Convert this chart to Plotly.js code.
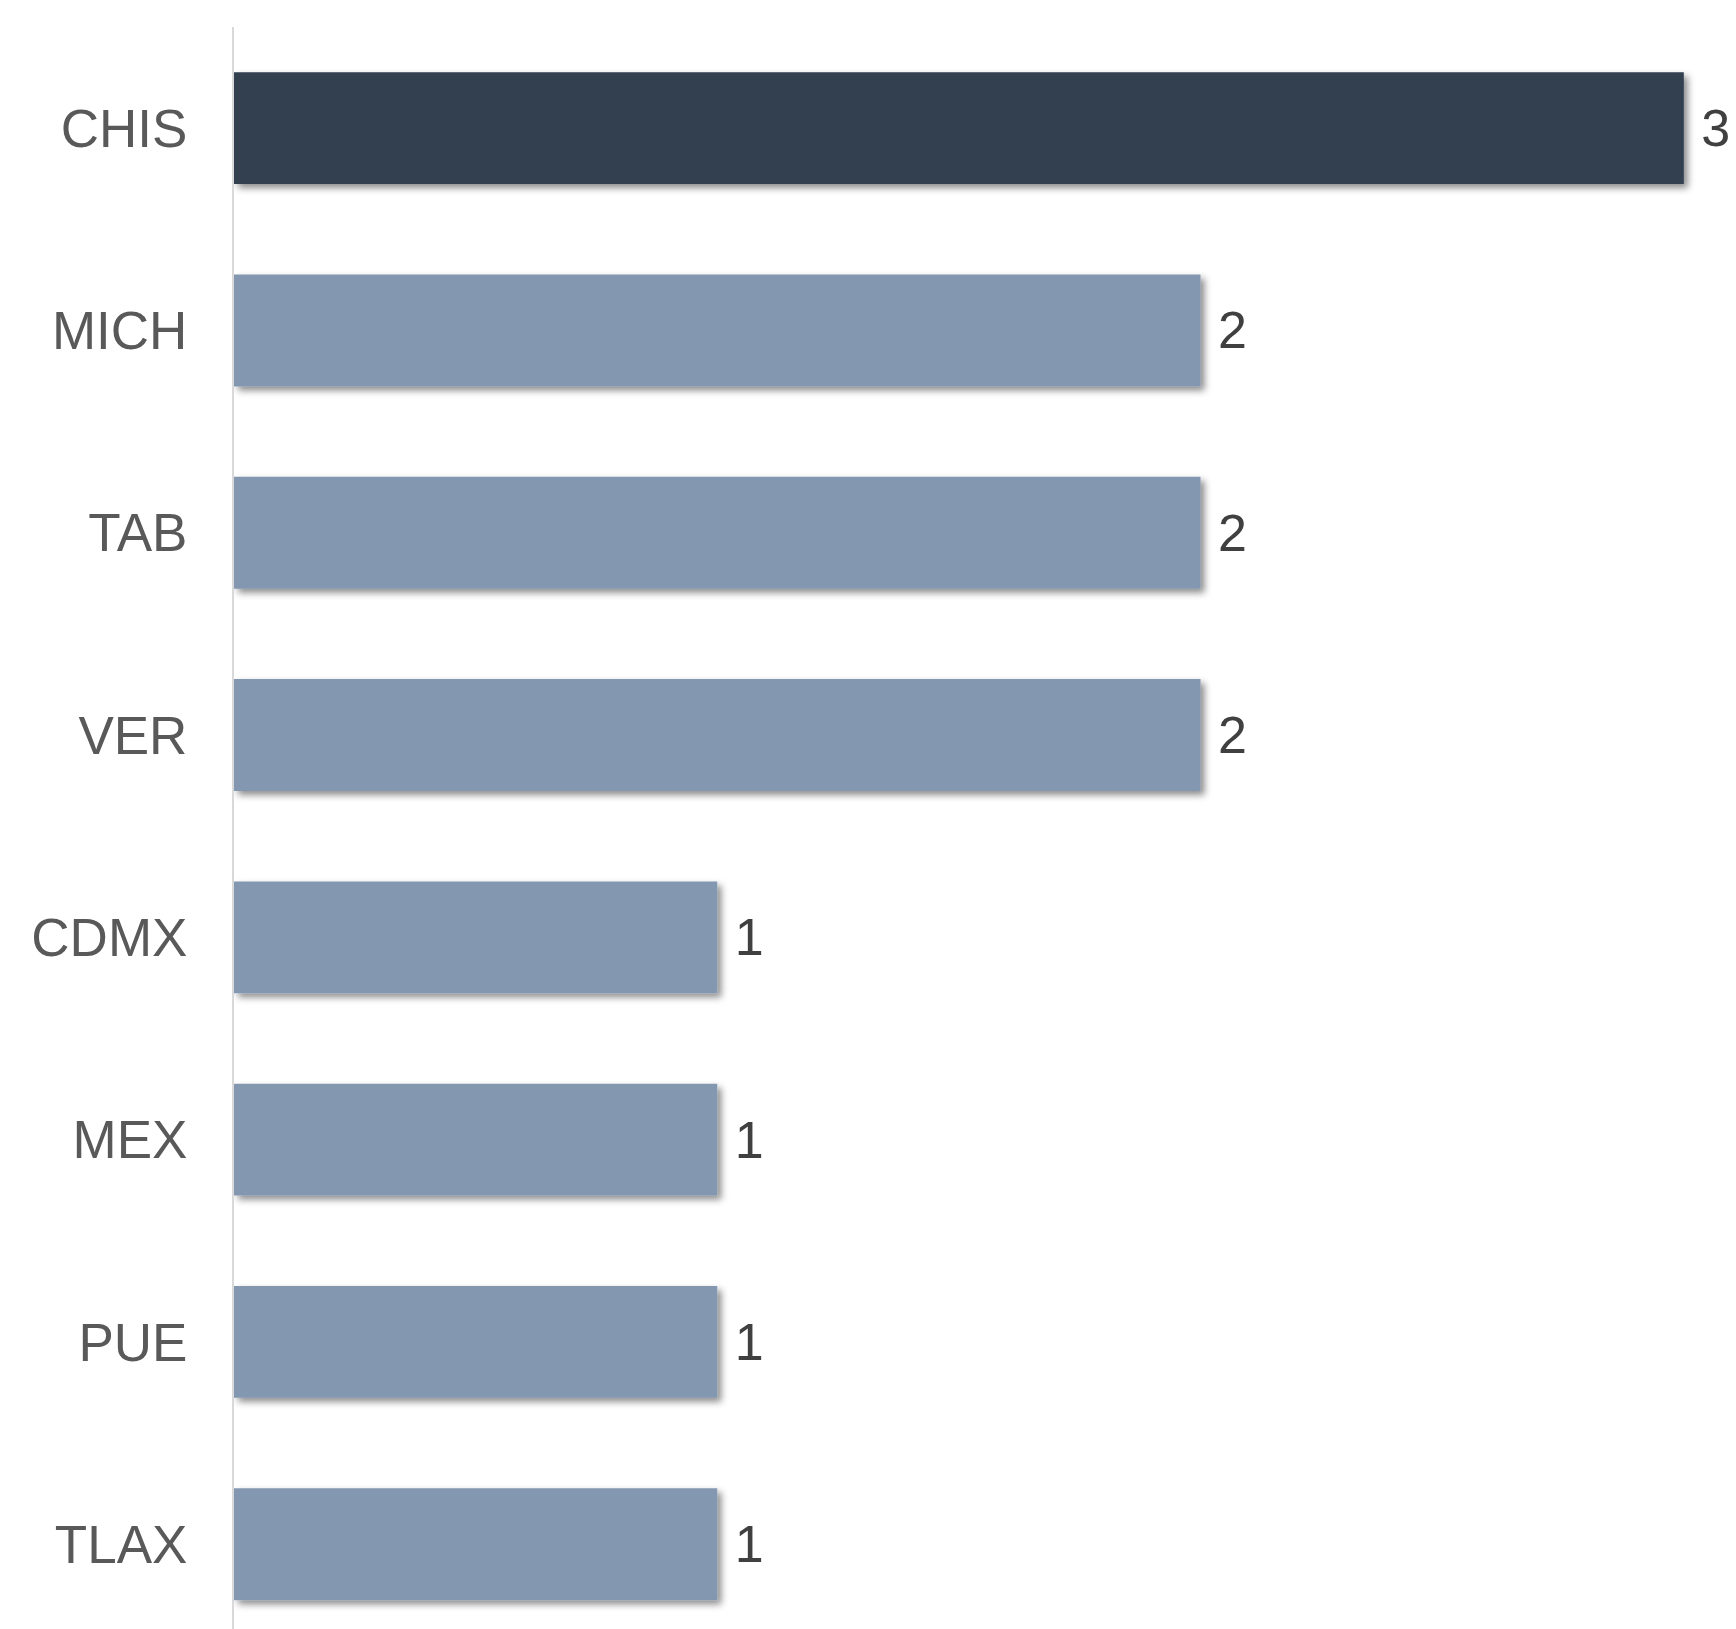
<!DOCTYPE html>
<html>
<head>
<meta charset="utf-8">
<script src="https://cdn.plot.ly/plotly-3.0.1.min.js"></script>
<style>
html, body { margin: 0; padding: 0; background: #fff; }
#chart { width: 1736px; height: 1629px; }
.barlayer .point path { filter: url(#barshadow); }
</style>
</head>
<body>
<svg width="0" height="0" style="position:absolute">
  <defs>
    <filter id="barshadow" x="-5%" y="-10%" width="120%" height="140%">
      <feDropShadow dx="4" dy="4" stdDeviation="3.5" flood-color="#000000" flood-opacity="0.45"/>
    </filter>
  </defs>
</svg>
<div id="chart"></div>
<script>
const states = ["CHIS", "MICH", "TAB", "VER", "CDMX", "MEX", "PUE", "TLAX"];
const counts = [3, 2, 2, 2, 1, 1, 1, 1];
const highlight = "CHIS";

const colors = states.map(s => s === highlight ? "#333F50" : "#8497B0");

const trace = {
  type: "bar",
  orientation: "h",
  y: states,
  x: counts,
  marker: { color: colors, line: { width: 0 } },
  text: counts.map(v => " " + v),
  textposition: "outside",
  cliponaxis: false,
  textfont: { family: "Liberation Sans, Arial, sans-serif", size: 52, color: "#404040" },
  hoverinfo: "none"
};

const layout = {
  width: 1736,
  height: 1629,
  margin: { l: 234, r: 0, t: 27, b: 0 },
  paper_bgcolor: "#ffffff",
  plot_bgcolor: "#ffffff",
  showlegend: false,
  bargap: 0.447,
  xaxis: {
    range: [0, 3.108],
    showgrid: false,
    zeroline: false,
    showticklabels: false,
    showline: false,
    ticks: ""
  },
  yaxis: {
    type: "category",
    range: [7.419, -0.5],
    showgrid: false,
    zeroline: false,
    showline: true,
    linecolor: "#D9D9D9",
    linewidth: 2,
    ticks: "",
    ticklabelstandoff: 34,
    tickfont: { family: "Liberation Sans, Arial, sans-serif", size: 53, color: "#595959" }
  }
};

Plotly.newPlot("chart", [trace], layout, { staticPlot: true }).then(function (gd) {
  gd.querySelectorAll(".barlayer .point path").forEach(function (p) {
    p.setAttribute("filter", "url(#barshadow)");
  });
});
</script>
</body>
</html>
